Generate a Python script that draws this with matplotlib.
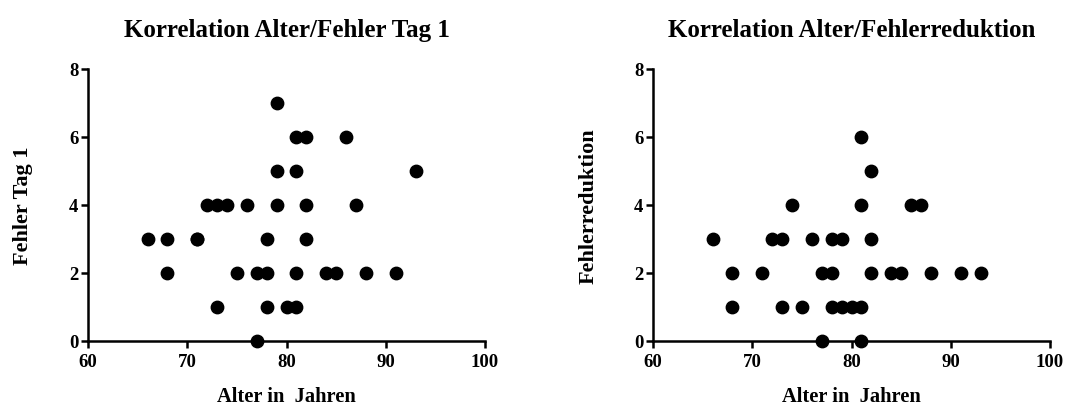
import matplotlib
matplotlib.use("Agg")
from matplotlib import pyplot as plt

# Daten: Alter und Fehler Tag 1
alter_tag1 = [79, 81, 82, 86, 79, 81, 93, 72, 73, 74, 76, 79, 82, 87,
              66, 68, 71, 71, 78, 82, 68, 75, 77, 78, 81, 84, 85, 88, 91,
              73, 78, 80, 81, 77]
fehler_tag1 = [7, 6, 6, 6, 5, 5, 5, 4, 4, 4, 4, 4, 4, 4,
               3, 3, 3, 3, 3, 3, 2, 2, 2, 2, 2, 2, 2, 2, 2,
               1, 1, 1, 1, 0]

# Daten: Alter und Fehlerreduktion
alter_red = [81, 82, 74, 81, 86, 87, 66, 72, 73, 76, 78, 79, 82,
             68, 71, 77, 78, 82, 84, 85, 88, 91, 93,
             68, 73, 75, 78, 79, 80, 81, 77, 81]
fehler_red = [6, 5, 4, 4, 4, 4, 3, 3, 3, 3, 3, 3, 3,
              2, 2, 2, 2, 2, 2, 2, 2, 2, 2,
              1, 1, 1, 1, 1, 1, 1, 0, 0]

titles = ["Korrelation Alter/Fehler Tag 1", "Korrelation Alter/Fehlerreduktion"]
ylabels = ["Fehler Tag 1", "Fehlerreduktion"]

plt.rcParams['font.family'] = ['Liberation Serif', 'DejaVu Serif']
plt.rcParams['font.weight'] = 'bold'

fig = plt.figure(figsize=(10.79, 4.06), dpi=100)
ax1 = fig.add_axes([88 / 1079, 64 / 406, 397 / 1079, 272 / 406])
ax2 = fig.add_axes([653 / 1079, 64 / 406, 397 / 1079, 272 / 406])

for ax, x, y, t, yl in [(ax1, alter_tag1, fehler_tag1, titles[0], ylabels[0]),
                        (ax2, alter_red, fehler_red, titles[1], ylabels[1])]:
    ax.scatter(x, y, s=80, color='black', clip_on=False, zorder=5)
    ax.set_xlim(60, 100)
    ax.set_ylim(0, 8)
    ax.set_xticks([60, 70, 80, 90, 100])
    ax.set_yticks([0, 2, 4, 6, 8])
    ax.spines['top'].set_visible(False)
    ax.spines['right'].set_visible(False)
    ax.spines['left'].set_linewidth(1.8)
    ax.spines['bottom'].set_linewidth(1.8)
    ax.tick_params(direction='out', length=5, width=1.8, labelsize=13.5, pad=2)
    ax.tick_params(axis='x', pad=4)
    for lab in ax.get_xticklabels() + ax.get_yticklabels():
        lab.set_fontweight('bold')
    ax.set_xlabel("Alter in  Jahren", fontsize=14.8, fontweight='bold', labelpad=11)
    ax.set_ylabel(yl, fontsize=16, fontweight='bold')
    ax.yaxis.set_label_coords(-0.138, 0.5)
    ax.set_title(t, fontsize=18, fontweight='bold', pad=24)

fig.savefig('out.png', dpi=100)
